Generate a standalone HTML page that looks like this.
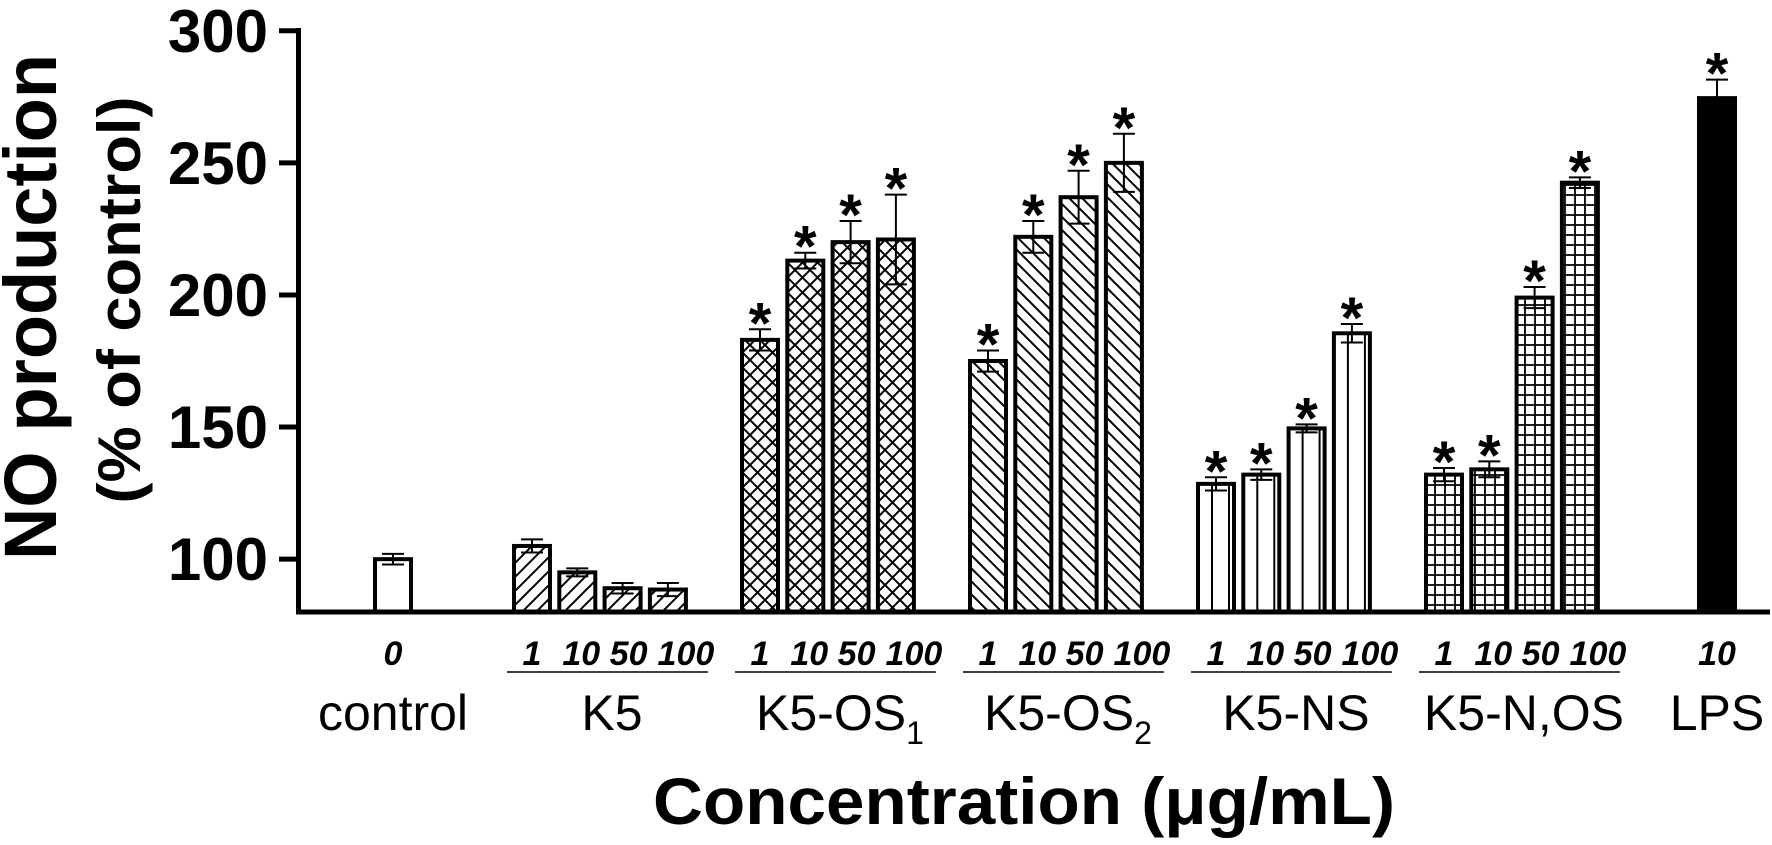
<!DOCTYPE html>
<html><head><meta charset="utf-8"><style>
html,body{margin:0;padding:0;background:#fff;}
svg{display:block;font-family:"Liberation Sans",Arial,sans-serif;}
</style></head><body>
<svg id="chart" width="1772" height="845" viewBox="0 0 1772 845" xmlns="http://www.w3.org/2000/svg">
<defs>
<pattern id="pK5" patternUnits="userSpaceOnUse" width="14" height="14"><path d="M-2,16 L16,-2 M-2,2 L2,-2 M12,16 L16,12" stroke="#000" stroke-width="2"/></pattern>
<pattern id="pOS1" patternUnits="userSpaceOnUse" width="15" height="15"><path d="M0,0 L15,15 M15,0 L0,15" stroke="#000" stroke-width="2"/></pattern>
<pattern id="pOS2" patternUnits="userSpaceOnUse" width="13" height="13"><path d="M-2,-2 L15,15 M11,-2 L15,2 M-2,11 L2,15" stroke="#000" stroke-width="2"/></pattern>
<pattern id="pNOS" patternUnits="userSpaceOnUse" width="10" height="10"><path d="M5,0 L5,10 M0,5 L10,5" stroke="#000" stroke-width="1.8"/></pattern>
</defs>
<g id="bars"></g>
<g id="axes"></g>
<g id="labels"></g>
</svg>
<script>
const groups = ["control","K5","K5-OS1","K5-OS2","K5-NS","K5-N,OS","LPS"];
const concLabels = [["0"],["1","10","50","100"],["1","10","50","100"],["1","10","50","100"],["1","10","50","100"],["1","10","50","100"],["10"]];
const values = [[100],[105,95,89,88.5],[183,213,220,221],[175,222,237,250],[128.5,132,149.5,185.5],[132,134,199,242.5],[274.5]];
const errors = [[2],[2.5,1.5,2,2.5],[4,3,8,17],[4,6,10,11],[2.5,2,1.5,3.5],[2.5,3,4,2],[7]];
const significant = [[false],[false,false,false,false],[true,true,true,true],[true,true,true,true],[true,true,true,true],[true,true,true,true],[true]];
const yTicks = [100,150,200,250,300];

const NS="http://www.w3.org/2000/svg";
const groupStart=[373,512,740,968,1196,1424,1697];
const step=45.3, bw=40;
const fills=["#fff","url(#pK5)","url(#pOS1)","url(#pOS2)","#fff","url(#pNOS)","#000"];
const labelShift=[0,4,6,18];
const yMin=80, y0=612, pxPer=132.1/50;
function y(v){return y0-(v-yMin)*pxPer;}
function mk(tag,attrs,parent){const e=document.createElementNS(NS,tag);for(const k in attrs)e.setAttribute(k,attrs[k]);parent.appendChild(e);return e;}
const gb=document.getElementById('bars'), ga=document.getElementById('axes'), gl=document.getElementById('labels');

values.forEach((arr,g)=>{
  arr.forEach((v,i)=>{
    const x=groupStart[g]+i*step, cx=x+bw/2;
    const r=mk('rect',{x:x+2,y:y(v),width:bw-4,height:y0-y(v),fill:fills[g],stroke:'#000','stroke-width':4},gb);
    
    
    if(g===4){
      const hl=mk('path',{d:`M${x+16},${y(v)}V${y0}M${x+33},${y(v)}V${y0}`,stroke:'#000','stroke-width':2},gb);
      
      
    }
    const e=errors[g][i], t=y(v+e), b=y(v-e);
    const eb=mk('path',{d:`M${cx},${t}V${b}M${cx-11},${t}H${cx+11}M${cx-11},${b}H${cx+11}`,stroke:'#000','stroke-width':2,fill:'none'},gb);
    
    
    if(significant[g][i]){
      const s=mk('text',{x:cx,y:t+14,'text-anchor':'middle','font-size':58,'font-weight':'bold'},gl);
      s.textContent='*';
      
      
    }
    const cl=mk('text',{x:cx+(concLabels[g].length>1?labelShift[i]:0),y:665,'text-anchor':'middle','font-size':34,'font-weight':'bold','font-style':'italic'},gl);
    cl.textContent=concLabels[g][i];
    
    
  });
  const n=arr.length, left=groupStart[g], right=groupStart[g]+(n-1)*step+bw;
  if(n>1){
    const u=mk('line',{x1:left-5,x2:right+20,y1:672,y2:672,stroke:'#000','stroke-width':1.5},gl);
    
    
  }
  const gx=(left+right)/2+(n>1?12:0);
  const lt=mk('text',{x:gx,y:730,'text-anchor':'middle','font-size':50},gl);
  const m=groups[g].match(/^(K5-OS)(\d)$/);
  if(m){lt.textContent=m[1];const sub=mk('tspan',{'font-size':32,dy:14},lt);sub.textContent=m[2];}
  else lt.textContent=groups[g];
  
  
});

const ax=mk('path',{d:`M298.5,28V${y0}H1770`,stroke:'#000','stroke-width':5,fill:'none'},ga);


yTicks.forEach(t=>{
  const tk=mk('line',{x1:279,x2:298,y1:y(t),y2:y(t),stroke:'#000','stroke-width':5},ga);
  
  
  const tl=mk('text',{x:268,y:y(t)+21,'text-anchor':'end','font-size':60,'font-weight':'bold'},ga);
  tl.textContent=t;
  
  
});
const yt1=mk('text',{transform:'translate(56,307) rotate(-90)','text-anchor':'middle','font-size':74,'font-weight':'bold',textLength:506,lengthAdjust:'spacingAndGlyphs'},ga);
yt1.textContent='NO production';


const yt2=mk('text',{transform:'translate(140,300) rotate(-90)','text-anchor':'middle','font-size':60,'font-weight':'bold',textLength:407,lengthAdjust:'spacingAndGlyphs'},ga);
yt2.textContent='(% of control)';


const xt=mk('text',{x:1024,y:824,'text-anchor':'middle','font-size':66,'font-weight':'bold',textLength:742,lengthAdjust:'spacingAndGlyphs'},ga);
xt.textContent='Concentration (\u03bcg/mL)';


</script>
</body></html>
